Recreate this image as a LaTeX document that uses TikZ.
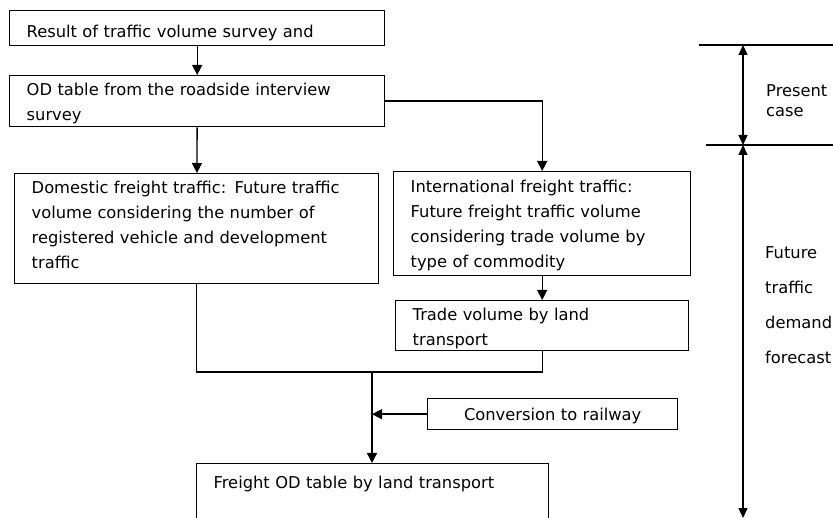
\documentclass[tikz,border=0pt]{standalone}
\usepackage{fontspec}
\setmainfont{DejaVu Sans}
\usetikzlibrary{arrows.meta,positioning}

\begin{document}
\begin{tikzpicture}[x=1pt,y=-1pt,
  box/.style={draw,line width=1.4pt,anchor=north west,align=left,inner xsep=17pt,inner ysep=0pt,
    font=\fontsize{16.3}{25}\selectfont},
  lab/.style={anchor=base west,align=left,inner sep=0pt},
  flow/.style={line width=1.4pt,-{Triangle[length=10pt,width=10pt]}},
  link/.style={line width=1.4pt},
  span/.style={line width=1.4pt,{Triangle[length=10pt,width=9pt]}-{Triangle[length=10pt,width=9pt]}}]
  \useasboundingbox (0,0) rectangle (833,518);
  \node[box,text width=341pt,text height=27pt,text depth=8pt] (result) at (9,10) {Result of traffic volume survey and};
  \node[box,text width=341pt,text height=20pt,text depth=31pt] (odtab) at (9,75) {OD table from the roadside interview\\survey};
  \node[box,text width=330pt,text height=20pt,text depth=90pt] (dom) at (14,173) {Domestic freight traffic: Future traffic\\volume considering the number of\\registered vehicle and development\\traffic};
  \node[box,text width=263pt,text height=21pt,text depth=83pt] (intl) at (393,171) {International freight traffic:\\Future freight traffic volume\\considering trade volume by\\type of commodity};
  \node[box,text width=259pt,text height=20pt,text depth=30pt] (trade) at (395,300) {Trade volume by land\\transport};
  \node[box,align=center,text width=216pt,text height=22pt,text depth=9pt] (rail) at (427,398) {Conversion to railway};
  \node[box,text width=318pt,text height=25pt,text depth=42pt] (freight) at (196,463) {Freight OD table by land transport};
  \coordinate (join) at (372,372);
  \draw[flow] (result) -- (odtab);
  \draw[flow] (odtab) -- (dom);
  \draw[flow] (odtab.east) -| (intl.north);
  \draw[flow] (intl) -- (trade);
  \draw[link] (dom.south) |- (join) -| (trade.south);
  \draw[flow] (join) -- (join |- freight.north);
  \draw[flow] (rail.west) -- (join |- rail.west);

  \coordinate (topl) at (699,45);
  \coordinate (topr) at (833,45);
  \coordinate (midl) at (706,145);
  \coordinate (midr) at (833,145);
  \coordinate (ptop) at (743,45);
  \coordinate (pmid) at (743,145);
  \coordinate (pend) at (743,518);
  \draw[link] (topl) -- (topr);
  \draw[link] (midl) -- (midr);
  \draw[span] (ptop) -- (pmid);
  \draw[span] (pmid) -- (pend);
  \node[lab,font=\fontsize{16.3}{20}\selectfont] (present) at (766,117) {Present\\case};
  \node[lab,font=\fontsize{16.3}{35}\selectfont] (future) at (765,364) {Future\\traffic\\demand\\forecast};
\end{tikzpicture}
\end{document}
